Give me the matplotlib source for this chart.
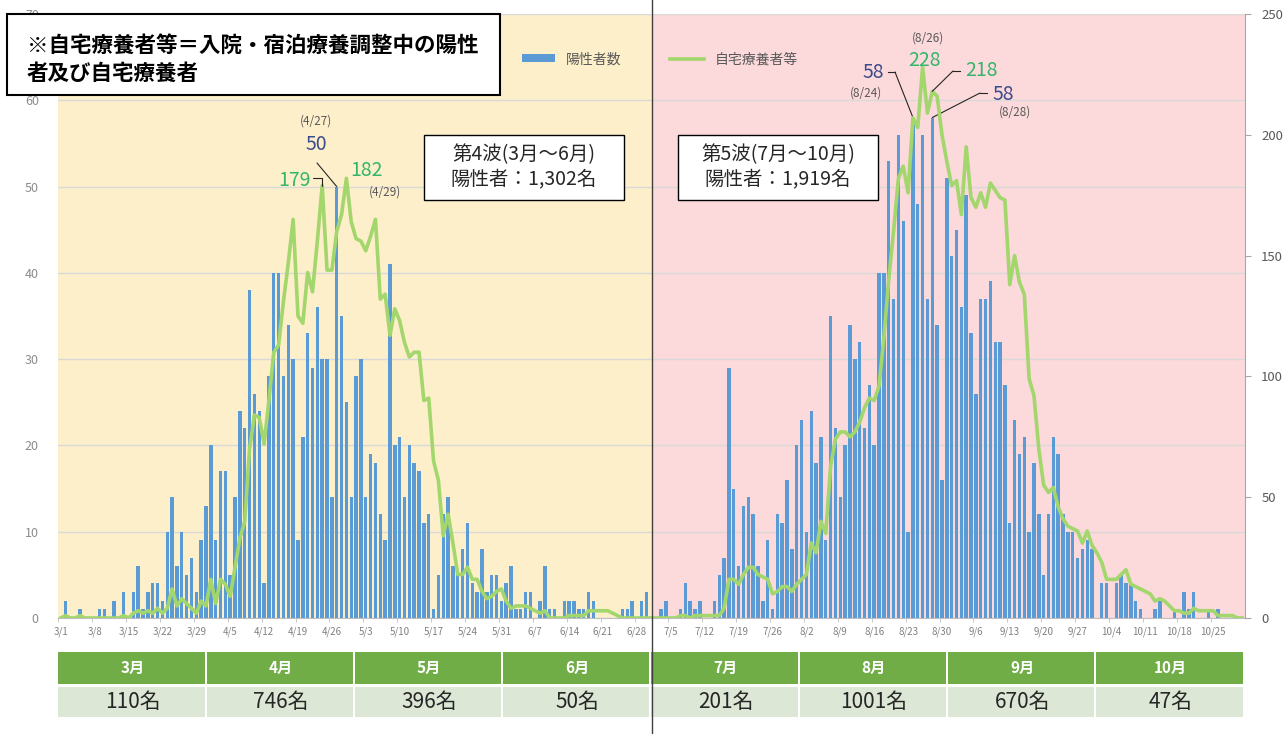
import datetime as dt
import numpy as np
import matplotlib
matplotlib.use("Agg")
import matplotlib.pyplot as plt
from matplotlib.patches import Rectangle
from matplotlib.lines import Line2D

plt.rcParams['font.family'] = ['Noto Sans CJK JP', 'DejaVu Sans']

# daily new positives (left axis)
cases_mar = [0, 2, 0, 0, 1, 0, 0, 0, 1, 1, 0, 2, 0, 3, 0, 3, 6, 1, 3, 4, 4, 2, 10, 14, 6, 10, 5, 7, 3, 9, 13]
cases_apr = [20, 9, 17, 17, 5, 14, 24, 22, 38, 26, 24, 4, 28, 40, 40, 28, 34, 30, 9, 21, 33, 29, 36, 30, 30, 14, 50, 35, 25, 14]
cases_may = [28, 30, 14, 19, 18, 12, 9, 41, 20, 21, 14, 20, 18, 17, 11, 12, 1, 5, 12, 14, 6, 5, 8, 11, 4, 3, 8, 3, 5, 5, 2]
cases_jun = [4, 6, 1, 1, 3, 3, 0, 2, 6, 1, 1, 0, 2, 2, 2, 1, 1, 3, 2, 0, 0, 0, 0, 0, 1, 1, 2, 0, 2, 3]
cases_jul = [0, 0, 1, 2, 0, 0, 1, 4, 2, 1, 2, 0, 0, 2, 5, 7, 29, 15, 6, 13, 14, 12, 6, 2, 9, 1, 12, 11, 16, 8, 20]
cases_aug = [23, 10, 24, 18, 21, 9, 35, 22, 14, 20, 34, 30, 32, 22, 27, 20, 40, 40, 53, 37, 56, 46, 10, 58, 48, 56, 37, 58, 34, 16, 51]
cases_sep = [42, 45, 36, 49, 33, 26, 37, 37, 39, 32, 32, 27, 11, 23, 19, 21, 10, 18, 12, 5, 12, 21, 19, 12, 10, 10, 7, 8, 9, 8]
cases_oct = [0, 4, 4, 0, 4, 5, 4, 4, 2, 1, 0, 0, 1, 2, 0, 0, 1, 0, 3, 1, 3, 0, 0, 1, 0, 1, 0, 0, 0, 0, 0]

# people in home care etc. (right axis)
home_mar = [0, 1, 0, 0, 1, 0, 0, 0, 0, 0, 0, 0, 0, 1, 0, 2, 3, 2, 3, 2, 4, 2, 4, 12, 5, 8, 6, 4, 2, 7, 5]
home_apr = [16, 6, 16, 14, 9, 21, 33, 40, 70, 84, 83, 72, 90, 110, 113, 131, 147, 165, 125, 122, 143, 135, 156, 179, 144, 144, 160, 167, 182, 164]
home_may = [157, 156, 152, 158, 165, 132, 134, 117, 128, 123, 114, 108, 110, 110, 90, 91, 65, 57, 34, 43, 31, 18, 18, 21, 16, 16, 11, 8, 9, 11, 12]
home_jun = [7, 4, 5, 5, 5, 4, 3, 2, 3, 0, 0, 0, 0, 1, 1, 1, 1, 3, 3, 3, 3, 3, 2, 1, 0, 0, 0, 0, 0, 0]
home_jul = [0, 0, 0, 0, 0, 0, 1, 1, 0, 1, 1, 1, 1, 1, 1, 4, 16, 16, 14, 18, 21, 21, 18, 17, 16, 10, 11, 13, 13, 11, 14]
home_aug = [16, 18, 31, 27, 40, 35, 63, 74, 77, 77, 75, 77, 81, 87, 91, 90, 96, 116, 140, 160, 182, 187, 176, 207, 203, 228, 209, 218, 216, 200, 189]
home_sep = [179, 181, 167, 195, 174, 170, 176, 170, 180, 177, 174, 173, 138, 150, 139, 134, 99, 92, 70, 55, 52, 54, 46, 41, 38, 37, 36, 31, 36, 30]
home_oct = [27, 23, 16, 16, 16, 18, 20, 14, 13, 12, 11, 10, 7, 8, 7, 5, 3, 3, 2, 2, 4, 3, 3, 3, 3, 1, 1, 1, 1, 0, 0]

month_names = ['3月', '4月', '5月', '6月', '7月', '8月', '9月', '10月']
month_totals = [110, 746, 396, 50, 201, 1001, 670, 47]

cases = np.array(cases_mar + cases_apr + cases_may + cases_jun + cases_jul + cases_aug + cases_sep + cases_oct)
home = np.array(home_mar + home_apr + home_may + home_jun + home_jul + home_aug + home_sep + home_oct)
n = len(cases)
start = dt.date(2021, 3, 1)
dates = [start + dt.timedelta(days=i) for i in range(n)]
x = np.arange(n)

def idx(m, d):
    return (dt.date(2021, m, d) - start).days

W, H = 1288, 734
fig = plt.figure(figsize=(W / 100, H / 100), dpi=100)
ax = fig.add_axes([58.3 / W, (H - 618) / H, (1244.6 - 58.3) / W, (618 - 14) / H])
ax2 = ax.twinx()

split = idx(7, 1) + 0.1
ax.axvspan(-0.5, split, color='#FDEFC9', zorder=0, lw=0)
ax.axvspan(split, n - 0.5, color='#FCD9DA', zorder=0, lw=0)

bars = ax.bar(x, cases, width=0.7, color='#5B9BD5', zorder=2, label='陽性者数')
line, = ax2.plot(x, home, color='#A3D66C', lw=2.6, solid_joinstyle='round', label='自宅療養者等')

ax.set_xlim(-0.5, n - 0.5)
ax.set_ylim(0, 70)
ax2.set_ylim(0, 250)
ax.set_yticks(range(0, 71, 10))
ax2.set_yticks(range(0, 251, 50))
ax.set_axisbelow(True)
ax.grid(axis='y', color='#D9D9D9', lw=1, zorder=0.5)

ticks = x[::7]
ax.set_xticks(ticks)
ax.set_xticklabels([f'{d.month}/{d.day}' for d in dates[::7]], fontsize=7, color='#808080')
ax.set_xticks(ticks - 0.5, minor=True)
ax.tick_params(axis='x', which='major', length=0, pad=6)
ax.tick_params(axis='x', which='minor', length=3, color='#BFBFBF')
ax.tick_params(axis='y', length=0, labelsize=9, labelcolor='#8C8C8C', pad=14)
ax2.tick_params(axis='y', length=4, color='#A6A6A6', labelsize=9.5, labelcolor='#595959', pad=8)

for a in (ax, ax2):
    for s in ('top', 'left'):
        a.spines[s].set_visible(False)
ax.spines['right'].set_visible(False)
ax2.spines['bottom'].set_visible(False)
ax.spines['bottom'].set_color('#BFBFBF')
ax2.spines['right'].set_color('#A6A6A6')

leg = ax2.legend([bars.patches[0], line], ['陽性者数', '自宅療養者等'], ncol=2, frameon=False,
                 loc='center', bbox_to_anchor=(0.507, 0.925), fontsize=10,
                 columnspacing=3.5, handlelength=2.4, handleheight=0.5)
for t in leg.get_texts():
    t.set_color('#595959')

# separator between waves
fig.add_artist(Line2D([652 / W, 652 / W], [0, 1], transform=fig.transFigure, color='#404040', lw=1))

# note box top-left
fig.add_artist(Rectangle((7 / W, (H - 95) / H), 493 / W, 81 / H, transform=fig.transFigure,
                         fc='white', ec='black', lw=1.5))
fig.text(27 / W, (H - 45) / H, '※自宅療養者等＝入院・宿泊療養調整中の陽性', fontsize=15.5,
         fontweight='bold', va='center')
fig.text(27 / W, (H - 73) / H, '者及び自宅療養者', fontsize=15.5, fontweight='bold', va='center')

# wave boxes
for x0, txt in [(424, '第4波(3月～6月)\n陽性者：1,302名'), (678, '第5波(7月～10月)\n陽性者：1,919名')]:
    fig.add_artist(Rectangle((x0 / W, (H - 200) / H), 200 / W, 65 / H, transform=fig.transFigure,
                             fc='white', ec='black', lw=1))
    fig.text((x0 + 100) / W, (H - 167) / H, txt, fontsize=14, ha='center', va='center',
             linespacing=1.2, color='#262626')

navy = '#3C4C8C'
green = '#33B56B'
grey = '#595959'

def label(px, py, s, color, size, ha='center'):
    fig.text(px / W, (H - py) / H, s, color=color, fontsize=size, ha=ha, va='center')

def leader(axis, target, start, mid=None):
    if mid is not None:
        fig.add_artist(Line2D([mid[0] / W, start[0] / W], [(H - mid[1]) / H, (H - start[1]) / H],
                              transform=fig.transFigure, color='#262626', lw=0.8))
    axis.annotate('', xy=target, xycoords='data', xytext=(start[0], H - start[1]),
                  textcoords='figure pixels',
                  arrowprops=dict(arrowstyle='-', color='#262626', lw=0.8, shrinkA=0, shrinkB=0))

# 4th wave peaks
d427, d424, d429 = idx(4, 27), idx(4, 24), idx(4, 29)
label(316, 121, '(4/27)', grey, 8.5)
label(316, 145, str(cases[d427]), navy, 14)
leader(ax, (d427, cases[d427]), (317, 163))
label(311, 181, str(home[d424]), green, 14, ha='right')
ax2.annotate('', xy=(d424, home[d424]), xycoords='data', xytext=(313, H - 178), textcoords='figure pixels',
             arrowprops=dict(arrowstyle='-', color='#262626', lw=0.8, shrinkA=0, shrinkB=0,
                             connectionstyle='angle,angleA=0,angleB=90,rad=0'))
label(367, 171, str(home[d429]), green, 14)
label(385, 192, '(4/29)', grey, 8.5)

# 5th wave peaks
d824, d826, d828 = idx(8, 24), idx(8, 26), idx(8, 28)
label(928, 38, '(8/26)', grey, 8.5)
label(924, 60, str(home[d826]), green, 14)
label(873, 72, str(cases[d824]), navy, 14)
label(866, 93, '(8/24)', grey, 8.5)
leader(ax, (d824, cases[d824]), (895, 72), mid=(888, 72))
label(981, 70, str(home[d828]), green, 14)
leader(ax2, (d828, home[d828]), (953, 71), mid=(960, 71))
label(1003, 94, str(cases[d828]), navy, 14)
label(1015, 112, '(8/28)', grey, 8.5)
leader(ax, (d828, cases[d828]), (980, 93), mid=(987, 93))

# monthly totals table
cw = (1244.6 - 58.3) / len(month_names)
for i, (m, tot) in enumerate(zip(month_names, month_totals)):
    x0 = 58.3 + i * cw
    fig.add_artist(Rectangle((x0 / W, 50 / H), (cw - 2) / W, 32 / H, transform=fig.transFigure,
                             fc='#70AD47', ec='none'))
    fig.add_artist(Rectangle((x0 / W, 17 / H), (cw - 2) / W, 30 / H, transform=fig.transFigure,
                             fc='#DCE7D5', ec='none'))
    fig.text((x0 + cw / 2) / W, 66 / H, m, color='white', fontsize=11, fontweight='bold',
             ha='center', va='center')
    fig.text((x0 + cw / 2) / W, 32 / H, f'{tot}名', color='#262626', fontsize=15,
             ha='center', va='center')

fig.savefig('out.png', dpi=100)
